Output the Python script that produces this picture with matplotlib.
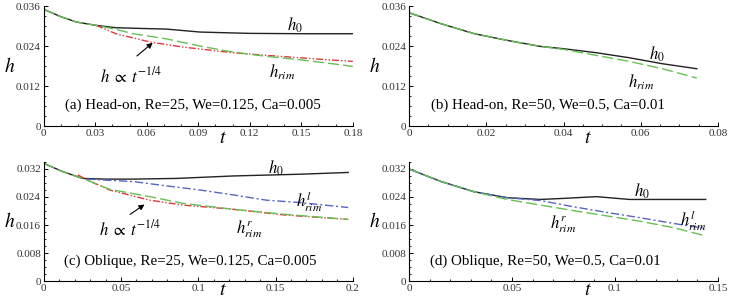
import numpy as np
import matplotlib.pyplot as plt
from matplotlib.ticker import MultipleLocator, FuncFormatter

plt.rcParams['font.family'] = ['Liberation Serif', 'DejaVu Serif']
plt.rcParams['mathtext.fontset'] = 'stix'

# (a) head-on, Re=25
ta_h0 = [0, 0.01, 0.019, 0.0305, 0.042, 0.055, 0.071, 0.08, 0.091, 0.105, 0.12, 0.15, 0.18]
ha_h0 = [0.0350, 0.0328, 0.0312, 0.0302, 0.0295, 0.0293, 0.0291, 0.0287, 0.0282, 0.0280, 0.0278, 0.0277, 0.0277]
ta_rim = [0, 0.01, 0.019, 0.0305, 0.042, 0.052, 0.071, 0.091, 0.110, 0.130, 0.149, 0.165, 0.18]
ha_rim = [0.0350, 0.0328, 0.0312, 0.0302, 0.0290, 0.0277, 0.0262, 0.0240, 0.0222, 0.0209, 0.0199, 0.0189, 0.0179]
ta_fit = [0.0305, 0.042, 0.062, 0.081, 0.110, 0.130, 0.149, 0.165, 0.18]
ha_fit = [0.0302, 0.0277, 0.0252, 0.0237, 0.0220, 0.0212, 0.0205, 0.0199, 0.0194]

# (b) head-on, Re=50
tb_h0 = [0, 0.0083, 0.0169, 0.0254, 0.034, 0.040, 0.0485, 0.057, 0.0656, 0.0745]
hb_h0 = [0.0340, 0.0307, 0.0277, 0.0257, 0.0239, 0.0232, 0.0220, 0.0205, 0.0187, 0.0172]
tb_rim = [0, 0.0083, 0.0169, 0.0254, 0.034, 0.040, 0.0485, 0.057, 0.0656, 0.0745]
hb_rim = [0.0340, 0.0307, 0.0277, 0.0257, 0.0239, 0.0230, 0.0212, 0.0194, 0.0172, 0.0144]

# (c) oblique, Re=25
tc_h0 = [0, 0.012, 0.025, 0.04, 0.0577, 0.086, 0.1226, 0.166, 0.197]
hc_h0 = [0.0336, 0.0313, 0.0293, 0.0291, 0.0291, 0.0293, 0.0300, 0.0305, 0.0310]
tc_rr = [0, 0.012, 0.025, 0.0426, 0.0685, 0.090, 0.1226, 0.155, 0.197]
hc_rr = [0.0336, 0.0313, 0.0293, 0.0262, 0.0241, 0.0222, 0.0205, 0.0191, 0.0176]
tc_rl = [0.028, 0.0577, 0.079, 0.101, 0.1226, 0.144, 0.166, 0.197]
hc_rl = [0.0291, 0.0284, 0.0272, 0.0260, 0.0246, 0.0231, 0.0224, 0.0210]
tc_fit = [0.022, 0.03, 0.0426, 0.0685, 0.090, 0.1226, 0.155, 0.197]
hc_fit = [0.0303, 0.0285, 0.0260, 0.0231, 0.0217, 0.0205, 0.0189, 0.0176]

# (d) oblique, Re=50
td_h0 = [0, 0.0156, 0.0316, 0.0477, 0.0637, 0.075, 0.091, 0.107, 0.123, 0.144]
hd_h0 = [0.0320, 0.0284, 0.0255, 0.0238, 0.0233, 0.0236, 0.0241, 0.0233, 0.0233, 0.0233]
td_rl = [0, 0.0156, 0.0316, 0.0477, 0.0637, 0.080, 0.096, 0.112, 0.128, 0.144]
hd_rl = [0.0320, 0.0284, 0.0255, 0.0238, 0.0230, 0.0212, 0.0196, 0.0181, 0.0165, 0.0150]
td_rr = [0, 0.0156, 0.0316, 0.0477, 0.0637, 0.080, 0.096, 0.112, 0.128, 0.144]
hd_rr = [0.0320, 0.0284, 0.0255, 0.0233, 0.0217, 0.0201, 0.0186, 0.0171, 0.0153, 0.0129]

BLACK = '#222222'
GREEN = '#66c055'
RED = '#e0383a'
BLUE = '#5566c4'

fig = plt.figure(figsize=(7.29, 3.01), dpi=100)


def setup(ax, xmax, xmaj, xmin, ymax, ymaj, ymin, tpos):
    ax.set_xlim(0, xmax)
    ax.set_ylim(0, ymax)
    for s in ['top', 'right']:
        ax.spines[s].set_visible(False)
    for s in ['left', 'bottom']:
        ax.spines[s].set_linewidth(0.8)
    ax.xaxis.set_major_locator(MultipleLocator(xmaj))
    ax.xaxis.set_minor_locator(MultipleLocator(xmin))
    ax.yaxis.set_major_locator(MultipleLocator(ymaj))
    ax.yaxis.set_minor_locator(MultipleLocator(ymin))
    ax.xaxis.set_major_formatter(FuncFormatter(lambda x, p: '0' if x == 0 else ('%g' % round(x, 6))))
    ax.yaxis.set_major_formatter(FuncFormatter(lambda x, p: '0' if x == 0 else ('%.3f' % x)))
    ax.tick_params(which='both', direction='in', labelsize=8, pad=2, labelcolor='#333333')
    ax.tick_params(which='major', length=3, width=0.7)
    ax.tick_params(which='minor', length=1.6, width=0.6)
    ax.text(-0.11, 0.5, '$h$', transform=ax.transAxes, fontsize=14, va='center', ha='center')
    ax.text(0.58, tpos, '$t$', transform=ax.transAxes, fontsize=14, va='center', ha='center')


W = 0.424
FIT = r'$h\;\propto\;t^{-1/4}$'

# panel (a)
ax = fig.add_axes([0.060, 0.581, W, 0.399])
setup(ax, 0.18, 0.03, 0.01, 0.036, 0.012, 0.003, -0.10)
ax.plot(ta_h0, ha_h0, color=BLACK, lw=1)
ax.plot(ta_fit, ha_fit, color=RED, lw=1, dashes=[5, 1.5, 1, 1.5, 1, 1.5])
ax.plot(ta_rim, ha_rim, color=GREEN, lw=1, dashes=[8, 3])
ax.text(0.146, 0.0302, '$h_0$', fontsize=12, ha='center', va='center')
ax.text(0.139, 0.0160, '$h_{rim}$', fontsize=12, ha='center', va='center')
ax.annotate('', xy=(0.0647, 0.0255), xytext=(0.053, 0.0205),
            arrowprops=dict(arrowstyle='-|>', color='black', lw=0.8, mutation_scale=8))
ax.text(0.051, 0.0150, FIT, fontsize=12, ha='center', va='center')
ax.text(0.087, 0.0062, '(a) Head-on, Re=25, We=0.125, Ca=0.005', fontsize=10.8, ha='center', va='center')

# panel (b)
ax = fig.add_axes([0.561, 0.581, W, 0.399])
setup(ax, 0.08, 0.02, 0.005, 0.036, 0.012, 0.003, -0.10)
ax.plot(tb_h0, hb_h0, color=BLACK, lw=1)
ax.plot(tb_rim, hb_rim, color=GREEN, lw=1, dashes=[8, 3])
ax.text(0.0642, 0.0215, '$h_0$', fontsize=12, ha='center', va='center')
ax.text(0.0600, 0.0132, '$h_{rim}$', fontsize=12, ha='center', va='center')
ax.text(0.036, 0.0062, '(b) Head-on, Re=50, We=0.5, Ca=0.01', fontsize=10.8, ha='center', va='center')

# panel (c)
ax = fig.add_axes([0.060, 0.066, W, 0.396])
setup(ax, 0.2, 0.05, 0.01, 0.034, 0.008, 0.002, -0.08)
ax.plot(tc_h0, hc_h0, color=BLACK, lw=1)
ax.plot(tc_rl, hc_rl, color=BLUE, lw=1, dashes=[6, 2, 1.5, 2])
ax.plot(tc_fit, hc_fit, color=RED, lw=1, dashes=[5, 1.5, 1, 1.5, 1, 1.5])
ax.plot(tc_rr, hc_rr, color=GREEN, lw=1, dashes=[8, 3])
ax.text(0.150, 0.0322, '$h_0$', fontsize=12, ha='center', va='center')
ax.text(0.172, 0.0226, '$h_{rim}^{l}$', fontsize=12, ha='center', va='center')
ax.text(0.133, 0.0148, '$h_{rim}^{r}$', fontsize=12, ha='center', va='center')
ax.annotate('', xy=(0.0667, 0.0223), xytext=(0.0544, 0.0186),
            arrowprops=dict(arrowstyle='-|>', color='black', lw=0.8, mutation_scale=8))
ax.text(0.0557, 0.0148, FIT, fontsize=12, ha='center', va='center')
ax.text(0.095, 0.0058, '(c) Oblique, Re=25, We=0.125, Ca=0.005', fontsize=10.8, ha='center', va='center')

# panel (d)
ax = fig.add_axes([0.561, 0.066, W, 0.396])
setup(ax, 0.15, 0.05, 0.01, 0.034, 0.008, 0.002, -0.08)
ax.plot(td_h0, hd_h0, color=BLACK, lw=1)
ax.plot(td_rl, hd_rl, color=BLUE, lw=1, dashes=[6, 2, 1.5, 2])
ax.plot(td_rr, hd_rr, color=GREEN, lw=1, dashes=[8, 3])
ax.text(0.113, 0.0255, '$h_0$', fontsize=12, ha='center', va='center')
ax.text(0.138, 0.0172, '$h_{rim}^{l}$', fontsize=12, ha='center', va='center')
ax.text(0.075, 0.0163, '$h_{rim}^{r}$', fontsize=12, ha='center', va='center')
ax.text(0.066, 0.0058, '(d) Oblique, Re=50, We=0.5, Ca=0.01', fontsize=10.8, ha='center', va='center')

fig.savefig('out.png', dpi=100)
